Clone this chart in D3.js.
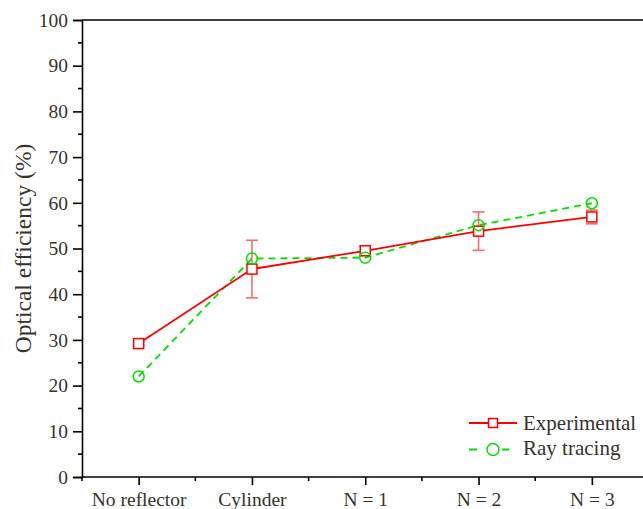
<!DOCTYPE html>
<html>
<head>
<meta charset="utf-8">
<script src="https://cdn.jsdelivr.net/npm/d3@7"></script>
<style>
  html, body { margin: 0; padding: 0; background: #fff; }
  svg { display: block; }
</style>
</head>
<body>
<svg id="chart" width="643" height="509"></svg>
<script>
// Reflector configurations
const categories = ["No reflector", "Cylinder", "N = 1", "N = 2", "N = 3"];
// Measured optical efficiency (%) and its error
const experimental = [29.2, 45.5, 49.5, 53.8, 56.9];
const experimentalErr = [0.4, 6.3, 1.0, 4.2, 1.5];
// Simulated optical efficiency (%)
const rayTracing = [22.0, 47.8, 48.0, 55.1, 59.9];
const yTicks = [0, 10, 20, 30, 40, 50, 60, 70, 80, 90, 100];
const yMinorTicks = [5, 15, 25, 35, 45, 55, 65, 75, 85, 95];
const seriesNames = ["Experimental", "Ray tracing"];

const serif = "'Liberation Serif', 'Times New Roman', Times, serif";
const svg = d3.select("#chart").style("font-family", serif);
const plotLeft = 82, plotTop = 20, plotBottom = 477;

const x = d3.scaleLinear().domain([-0.5, 4.5]).range([82, 648.5]);
const y = d3.scaleLinear().domain([0, 100]).range([plotBottom, plotTop]);

const red = "#ff0000", green = "#00e000", errRed = "#f26f6f";
const textColor = "#38322c";

// Frame: top edge
svg.append("line")
  .attr("x1", plotLeft).attr("x2", 650).attr("y1", plotTop).attr("y2", plotTop)
  .attr("stroke", "#000").attr("stroke-width", 1.6);

// Y axis
const yAxis = svg.append("g").attr("transform", `translate(${plotLeft},0)`)
  .call(d3.axisLeft(y).tickValues(yTicks).tickSize(9).tickPadding(5).tickFormat(d3.format("d")));
yAxis.append("g").selectAll("line").data(yMinorTicks).join("line")
  .attr("x1", 0).attr("x2", -4).attr("y1", d => y(d)).attr("y2", d => y(d))
  .attr("stroke", "#000").attr("stroke-width", 1.6);

// X axis
const xAxis = svg.append("g").attr("transform", `translate(0,${plotBottom})`)
  .call(d3.axisBottom(x).tickValues(d3.range(categories.length)).tickSize(8)
    .tickFormat(i => categories[i]));
xAxis.append("g").selectAll("line").data(d3.range(-0.5, 5, 1)).join("line")
  .attr("x1", d => x(d)).attr("x2", d => x(d)).attr("y1", 0).attr("y2", 4)
  .attr("stroke", "#000").attr("stroke-width", 1.6);

[yAxis, xAxis].forEach(g => {
  g.attr("font-family", null).attr("font-size", null);
  g.select(".domain").attr("stroke", "#000").attr("stroke-width", 1.6);
  g.selectAll(".tick line").attr("stroke", "#000").attr("stroke-width", 1.6);
  g.selectAll(".tick text").attr("fill", textColor).style("font-size", "19.5px")
    .style("font-family", serif);
});
xAxis.selectAll(".tick text").attr("y", 29).attr("dy", 0);
xAxis.select(".domain").attr("d", `M${plotLeft},0H650`);

// Y axis title
svg.append("text")
  .attr("transform", `translate(31,${(plotTop + plotBottom) / 2}) rotate(-90)`)
  .attr("text-anchor", "middle")
  .attr("fill", textColor).style("font-size", "23.5px").style("font-family", serif)
  .text("Optical efficiency (%)");

const idx = d3.range(categories.length);

// Error bars
const eb = svg.append("g").attr("stroke", errRed).attr("stroke-width", 1.6);
idx.forEach(i => {
  const cx = x(i), lo = y(experimental[i] - experimentalErr[i]), hi = y(experimental[i] + experimentalErr[i]);
  eb.append("line").attr("x1", cx).attr("x2", cx).attr("y1", lo).attr("y2", hi);
  eb.append("line").attr("x1", cx - 6).attr("x2", cx + 6).attr("y1", lo).attr("y2", lo);
  eb.append("line").attr("x1", cx - 6).attr("x2", cx + 6).attr("y1", hi).attr("y2", hi);
});

const line = d3.line().x(d => x(d[0])).y(d => y(d[1]));

// Ray tracing series
svg.append("path")
  .attr("d", line(idx.map(i => [i, rayTracing[i]])))
  .attr("fill", "none").attr("stroke", green).attr("stroke-width", 1.8)
  .attr("stroke-dasharray", "7,5");

// Experimental series
svg.append("path")
  .attr("d", line(idx.map(i => [i, experimental[i]])))
  .attr("fill", "none").attr("stroke", red).attr("stroke-width", 1.8);

svg.append("g").selectAll("rect").data(idx).join("rect")
  .attr("x", i => x(i) - 5).attr("y", i => y(experimental[i]) - 5)
  .attr("width", 10).attr("height", 10)
  .attr("fill", "#fff").attr("stroke", red).attr("stroke-width", 1.5);

svg.append("g").selectAll("circle").data(idx).join("circle")
  .attr("cx", i => x(i)).attr("cy", i => y(rayTracing[i])).attr("r", 5.5)
  .attr("fill", "none").attr("stroke", green).attr("stroke-width", 1.5);

// Legend
const lg = svg.append("g");
const ly1 = 423, ly2 = 449.5, lx = 493;
lg.append("line").attr("x1", lx - 24).attr("x2", lx + 24).attr("y1", ly1).attr("y2", ly1)
  .attr("stroke", red).attr("stroke-width", 1.8);
lg.append("rect").attr("x", lx - 4.5).attr("y", ly1 - 4.5).attr("width", 9).attr("height", 9)
  .attr("fill", "#fff").attr("stroke", red).attr("stroke-width", 1.5);
lg.append("line").attr("x1", lx - 24).attr("x2", lx + 16).attr("y1", ly2).attr("y2", ly2)
  .attr("stroke", green).attr("stroke-width", 1.8).attr("stroke-dasharray", "8,25,7");
lg.append("circle").attr("cx", lx).attr("cy", ly2).attr("r", 6)
  .attr("fill", "#fff").attr("stroke", green).attr("stroke-width", 1.5);
lg.selectAll("text").data(seriesNames).join("text")
  .attr("x", 523).attr("y", (d, i) => (i ? 455 : 429.5))
  .attr("fill", textColor).style("font-size", "21px").style("font-family", serif)
  .text(d => d);
</script>
</body>
</html>
